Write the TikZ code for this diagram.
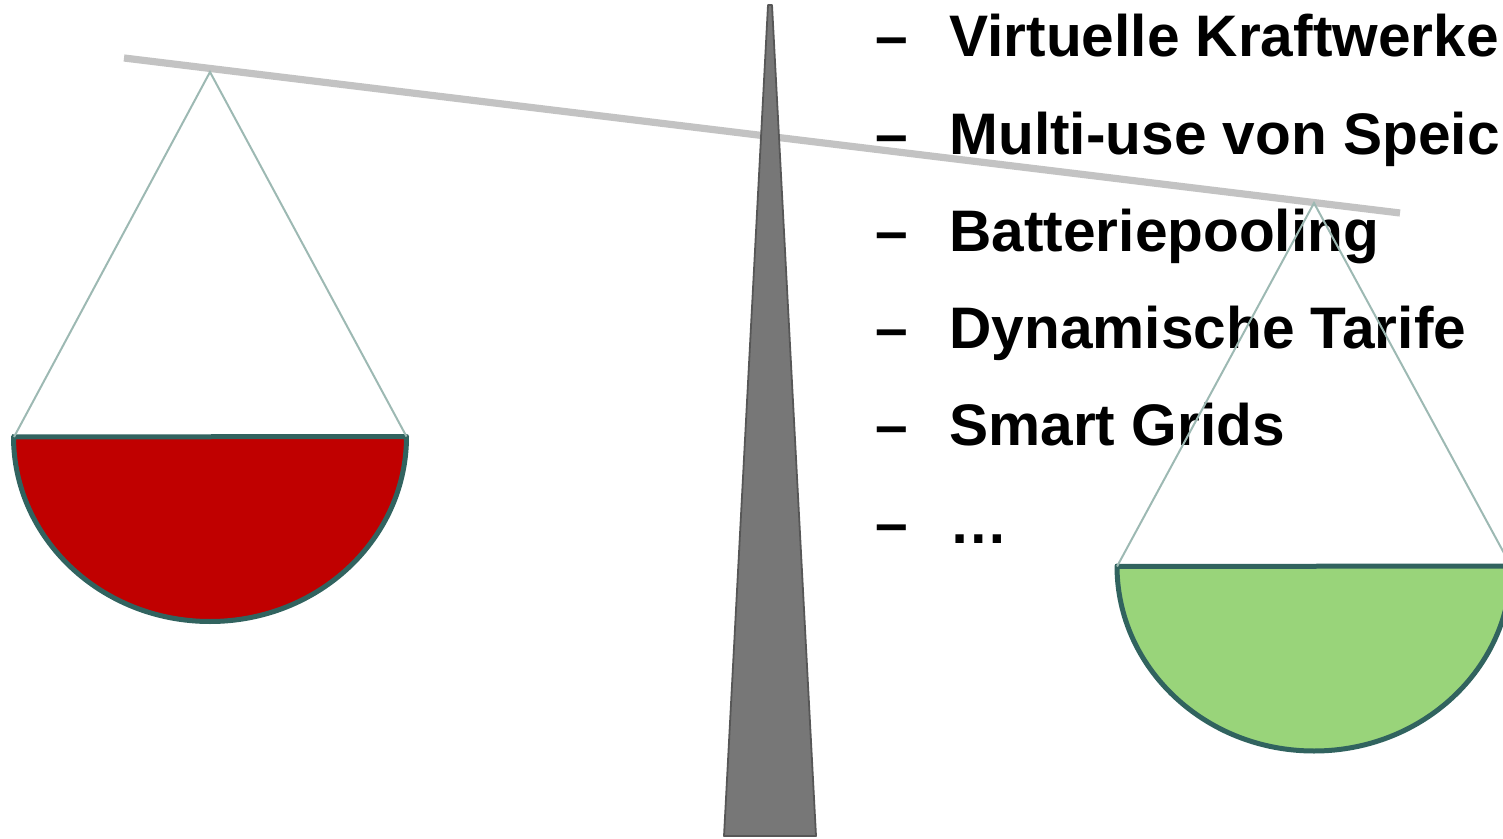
\documentclass[tikz,border=0pt]{standalone}
\usepackage{fontspec}
\setmainfont{Liberation Sans}
\definecolor{beamgray}{HTML}{C3C3C3}
\definecolor{pillarfill}{HTML}{777777}
\definecolor{pillarline}{HTML}{575757}
\definecolor{stringcol}{HTML}{9DB9B3}
\definecolor{panline}{HTML}{31635F}
\definecolor{panred}{HTML}{C00000}
\definecolor{pangreen}{HTML}{99D47A}
\tikzset{
  beam/.style={draw=beamgray, line width=3.6pt},
  pillar/.style={draw=pillarline, fill=pillarfill, line width=0.9pt, line join=round},
  cord/.style={draw=stringcol, line width=1pt},
  pan/.style={draw=panline, line width=2.5pt, line join=round},
  item/.style={anchor=base west, inner sep=0pt, font=\fontsize{29.3pt}{35pt}\selectfont\bfseries},
}
\begin{document}
\begin{tikzpicture}[x=0.5pt,y=-0.5pt]
\useasboundingbox (0,0) rectangle (1503,839);
\begin{scope}
\clip (0,0) rectangle (1503,839);
% beam
\coordinate (bl) at (124,58);
\coordinate (br) at (1400,213);
\draw[beam] (bl) -- (br);
% pillar
\coordinate (pt1) at (768,5);
\coordinate (pt2) at (772,5);
\coordinate (pb1) at (724,836);
\coordinate (pb2) at (816,836);
\path[pillar] (pt1) -- (pt2) -- (pb2) -- (pb1) -- cycle;
% text
\foreach \i/\t in {0/{Virtuelle Kraftwerke},1/{Multi-use von Speic},2/{Batteriepooling},3/{Dynamische Tarife},4/{Smart Grids},5/{…}}{
  \node[item] (d\i) at (875,{57+97.2*\i}) {–};
  \node[item] (t\i) at (949,{57+97.2*\i}) {\t};
}
% left scale
\coordinate (la) at (210,72);
\coordinate (l1) at (14,437);
\coordinate (l2) at (406.5,436.5);
\path[pan, fill=panred] (l1) -- (l2) arc[start angle=0, end angle=-180, x radius=98.25pt, y radius=92.5pt] -- cycle;
\draw[cord] (l1) -- (la) -- (l2);
% right scale
\coordinate (ra) at (1314,203);
\coordinate (r1) at (1117,566.5);
\coordinate (r2) at (1511,566);
\path[pan, fill=pangreen] (r1) -- (r2) arc[start angle=0, end angle=-180, x radius=98.5pt, y radius=92.5pt] -- cycle;
\draw[cord] (r1) -- (ra) -- (r2);
\end{scope}
\end{tikzpicture}
\end{document}
